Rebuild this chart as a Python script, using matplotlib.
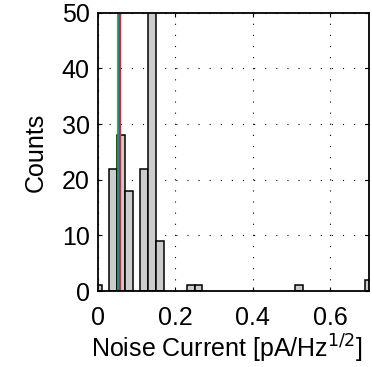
# Noise current histogram
import numpy as np
import matplotlib.pyplot as plt

plt.rcParams['font.family'] = ['Liberation Sans', 'DejaVu Sans']

# histogram bin centres and counts
bin_centers = [0.00, 0.04, 0.06, 0.08, 0.12, 0.14, 0.16, 0.24, 0.26, 0.52, 0.70]
counts = [1, 22, 28, 18, 22, 60, 9, 1, 1, 1, 2]
bin_width = 0.02

# marker lines (green, blue, red)
line_x = [0.051, 0.055, 0.0575]
line_colors = ['#22aa22', '#2255ee', '#ee2222']
line_widths = [2.0, 1.0, 1.0]

fig = plt.figure(figsize=(3.72, 3.67), dpi=100)
ax = fig.add_axes([0.263, 0.207, 0.729, 0.758])

ax.bar(bin_centers, counts, width=bin_width, color='#cccccc', edgecolor='black', linewidth=1.1, zorder=2)
for x, c, lw in zip(line_x, line_colors, line_widths):
    ax.axvline(x, color=c, linewidth=lw, zorder=3)

ax.set_xlim(0, 0.7)
ax.set_ylim(0, 50)
ax.set_xticks([0, 0.2, 0.4, 0.6])
ax.set_xticklabels(['0', '0.2', '0.4', '0.6'])
ax.set_yticks([0, 10, 20, 30, 40, 50])
ax.grid(True, color='black', linestyle=(0, (1, 9)), linewidth=0.8, zorder=0)
ax.set_axisbelow(True)
ax.tick_params(direction='in', length=3, labelsize=18, top=True, right=True)
ax.tick_params(axis='x', pad=11)
ax.tick_params(axis='y', pad=6)
for s in ax.spines.values():
    s.set_linewidth(1.3)
    s.set_zorder(4)

ax.set_xlabel('Noise Current [pA/Hz$^{1/2}$]', fontsize=18, labelpad=2)
# label is wider than the axes: start it just left of the axis
ax.xaxis.label.set_ha('left')
ax.xaxis.label.set_x(-0.026)
ax.set_ylabel('Counts', fontsize=18, labelpad=10)

fig.savefig('out.png', dpi=100)
